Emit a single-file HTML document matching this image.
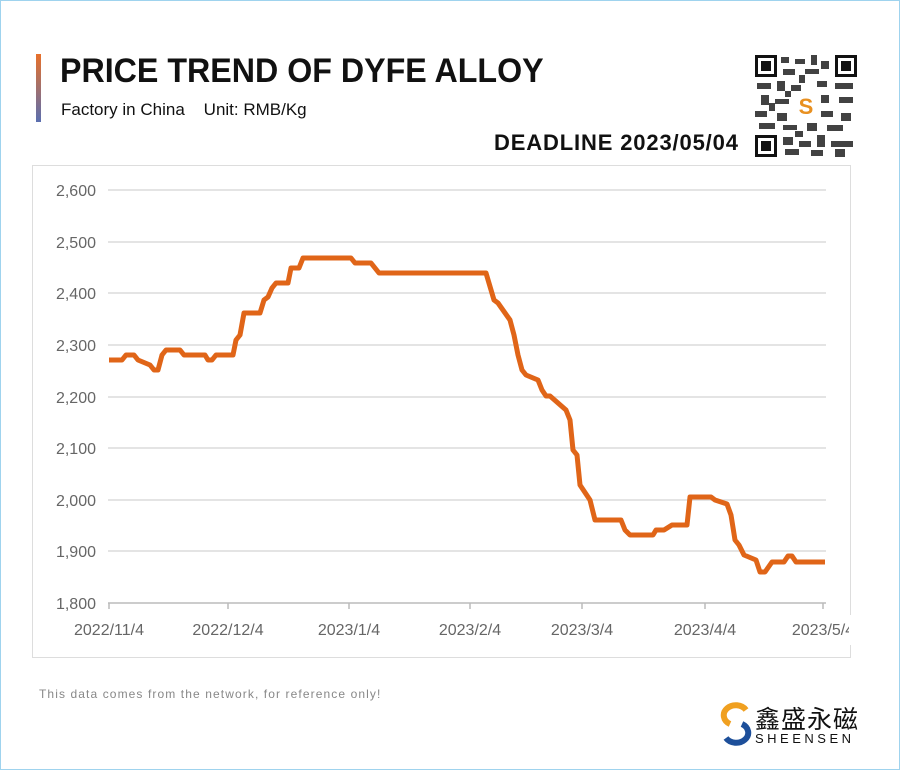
<!DOCTYPE html>
<html><head><meta charset="utf-8"><style>
body{margin:0;width:900px;height:770px;background:#fff;font-family:"Liberation Sans",sans-serif;overflow:hidden}
.frame{position:absolute;left:0;top:0;width:898px;height:768px;border:1px solid #9fd3ee}
</style></head><body>
<div class="frame"></div>
<div style="position:absolute;left:36px;top:54px;width:5px;height:68px;background:linear-gradient(#e8702a,#5a6fb0)"></div>
<div style="position:absolute;left:60px;top:52px;font-size:34px;font-weight:bold;color:#111;transform:scaleX(0.947);transform-origin:left">PRICE TREND OF DYFE ALLOY</div>
<div style="position:absolute;left:61px;top:100px;font-size:17px;color:#111">Factory in China &nbsp;&nbsp; Unit: RMB/Kg</div>
<div style="position:absolute;left:494px;top:130px;font-size:22px;font-weight:bold;color:#111;letter-spacing:0.85px">DEADLINE 2023/05/04</div>
<svg style="position:absolute;left:755px;top:55px" width="102" height="102" viewBox="0 0 102 102">
<rect width="102" height="102" fill="#fff"/>
<g fill="#111">
<rect x="0" y="0" width="22" height="22"/><rect x="80" y="0" width="22" height="22"/><rect x="0" y="80" width="22" height="22"/>
</g>
<g fill="#fff"><rect x="3" y="3" width="16" height="16"/><rect x="83" y="3" width="16" height="16"/><rect x="3" y="83" width="16" height="16"/></g>
<g fill="#111"><rect x="6" y="6" width="10" height="10"/><rect x="86" y="6" width="10" height="10"/><rect x="6" y="86" width="10" height="10"/></g>
<g fill="#222" opacity="0.85">
<rect x="26" y="2" width="8" height="6"/><rect x="40" y="4" width="10" height="5"/><rect x="56" y="0" width="6" height="10"/><rect x="66" y="6" width="8" height="8"/>
<rect x="28" y="14" width="12" height="6"/><rect x="50" y="14" width="14" height="5"/><rect x="44" y="20" width="6" height="8"/>
<rect x="2" y="28" width="14" height="6"/><rect x="22" y="26" width="8" height="10"/><rect x="36" y="30" width="10" height="6"/><rect x="62" y="26" width="10" height="6"/><rect x="80" y="28" width="18" height="6"/>
<rect x="6" y="40" width="8" height="10"/><rect x="20" y="44" width="14" height="5"/><rect x="66" y="40" width="8" height="8"/><rect x="84" y="42" width="14" height="6"/><rect x="30" y="36" width="6" height="6"/>
<rect x="0" y="56" width="12" height="6"/><rect x="22" y="58" width="10" height="8"/><rect x="66" y="56" width="12" height="6"/><rect x="86" y="58" width="10" height="8"/><rect x="14" y="48" width="6" height="8"/>
<rect x="4" y="68" width="16" height="6"/><rect x="28" y="70" width="14" height="5"/><rect x="52" y="68" width="10" height="8"/><rect x="72" y="70" width="16" height="6"/><rect x="40" y="76" width="8" height="6"/>
<rect x="28" y="82" width="10" height="8"/><rect x="44" y="86" width="12" height="6"/><rect x="62" y="80" width="8" height="12"/><rect x="76" y="86" width="22" height="6"/>
<rect x="30" y="94" width="14" height="6"/><rect x="56" y="95" width="12" height="6"/><rect x="80" y="94" width="10" height="8"/>
</g>
<rect x="38" y="38" width="26" height="26" fill="#fff"/>
<text x="51" y="59" text-anchor="middle" font-size="22" font-weight="bold" fill="#e89020">S</text>
</svg>
<div style="position:absolute;left:32px;top:165px;width:817px;height:491px;border:1px solid #ddd"></div>
<svg style="position:absolute;left:0;top:0" width="900" height="770">
<g stroke="#dcdcdc" stroke-width="1.5">
<line x1="108" x2="826" y1="190" y2="190"/><line x1="108" x2="826" y1="242" y2="242"/><line x1="108" x2="826" y1="293" y2="293"/><line x1="108" x2="826" y1="345" y2="345"/><line x1="108" x2="826" y1="397" y2="397"/><line x1="108" x2="826" y1="448" y2="448"/><line x1="108" x2="826" y1="500" y2="500"/><line x1="108" x2="826" y1="551" y2="551"/>
</g>
<line x1="108" x2="826" y1="603" y2="603" stroke="#bbb" stroke-width="1.5"/>
<g stroke="#bbb" stroke-width="1.5"><line x1="109" x2="109" y1="603" y2="609"/><line x1="228" x2="228" y1="603" y2="609"/><line x1="349" x2="349" y1="603" y2="609"/><line x1="470" x2="470" y1="603" y2="609"/><line x1="582" x2="582" y1="603" y2="609"/><line x1="705" x2="705" y1="603" y2="609"/><line x1="823" x2="823" y1="603" y2="609"/></g>
<g font-size="16" fill="#666" text-anchor="end">
<text x="96" y="196">2,600</text><text x="96" y="248">2,500</text><text x="96" y="299">2,400</text><text x="96" y="351">2,300</text><text x="96" y="403">2,200</text><text x="96" y="454">2,100</text><text x="96" y="506">2,000</text><text x="96" y="557">1,900</text><text x="96" y="609">1,800</text>
</g>
<g font-size="16" fill="#666" text-anchor="middle">
<text x="109" y="635">2022/11/4</text><text x="228" y="635">2022/12/4</text><text x="349" y="635">2023/1/4</text><text x="470" y="635">2023/2/4</text><text x="582" y="635">2023/3/4</text><text x="705" y="635">2023/4/4</text><text x="823" y="635">2023/5/4</text>
</g>
<rect x="849" y="615" width="49" height="30" fill="#fff"/>
<polyline fill="none" stroke="#e06518" stroke-width="5" stroke-linejoin="round" points="109,360 122,360 126,355 134,355 138,360 150,365 154,370 158,370 162,355 166,350 180,350 184,355 205,355 208,360 212,360 216,355 233,355 236,340 240,335 244,313 260,313 264,300 268,297 272,288 276,283 288,283 291,268 299,268 303,258 351,258 355,263 371,263 379,273 486,273 494,300 498,303 510,320 514,335 518,355 522,370 526,375 538,380 542,390 546,396 550,396 566,410 570,420 573,450 577,455 580,485 590,500 595,520 621,520 625,530 630,535 653,535 656,530 664,530 672,525 687,525 690,497 711,497 715,500 727,504 731,515 735,540 739,545 744,555 756,560 760,572 765,572 772,562 784,562 788,556 792,556 796,562 825,562"/>
</svg>
<div style="position:absolute;left:39px;top:687px;font-size:12px;color:#888;letter-spacing:1.1px">This data comes from the network, for reference only!</div>
<svg style="position:absolute;left:720px;top:702px" width="32" height="44" viewBox="0 0 32 44">
<path d="M26 8 A12 10 0 1 0 10 22" fill="none" stroke="#f0a020" stroke-width="6"/>
<path d="M6 36 A12 10 0 1 0 22 22" fill="none" stroke="#1d4f9a" stroke-width="6"/>
</svg>
<div style="position:absolute;left:755px;top:700px;font-size:25px;color:#111;font-family:'Liberation Sans','Noto Sans CJK SC',sans-serif;letter-spacing:1px">鑫盛永磁</div>
<div style="position:absolute;left:755px;top:731px;font-size:13px;color:#111;letter-spacing:3.5px">SHEENSEN</div>
</body></html>
